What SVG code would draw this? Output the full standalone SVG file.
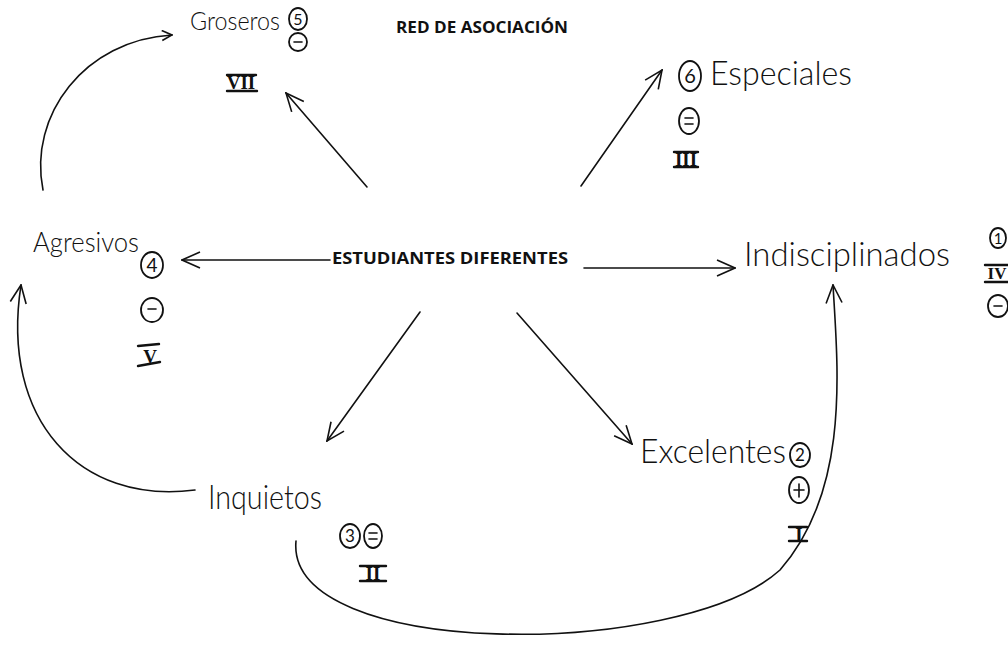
<svg xmlns="http://www.w3.org/2000/svg" width="1008" height="663" viewBox="0 0 1008 663">
<style>
.hand{font-family:"Lato","Open Sans",sans-serif;font-weight:300;fill:#111}
.lbl{font-size:33px}
.sm{font-size:17px;text-anchor:middle;font-weight:400}
.rom{font-family:"Liberation Serif",serif;font-weight:bold;font-size:19px;text-anchor:middle;fill:#111}
.ring{fill:none;stroke:#111;stroke-width:1.8}
.ln{fill:none;stroke:#111;stroke-width:1.6;stroke-linecap:round}
.bar{fill:none;stroke:#111;stroke-width:2.4;stroke-linecap:round}
.bold{font-family:"Open Sans","Liberation Sans",sans-serif;font-weight:bold;fill:#111}
</style>
<defs>
<marker id="ah" viewBox="0 0 12 12" refX="11" refY="6" markerWidth="12" markerHeight="12" markerUnits="userSpaceOnUse" orient="auto">
<path d="M1,1 L11,6 L1,11" fill="none" stroke="#111" stroke-width="1.6"/>
</marker>
<marker id="ahl" viewBox="0 0 20 20" refX="19" refY="10" markerWidth="20" markerHeight="20" markerUnits="userSpaceOnUse" orient="auto">
<path d="M1,2 L19,10 L1,18" fill="none" stroke="#111" stroke-width="1.6"/>
</marker>
</defs>
<rect width="1008" height="663" fill="#fff"/>
<text class="bold" x="482" y="33" font-size="16" text-anchor="middle" textLength="172" lengthAdjust="spacingAndGlyphs">RED DE ASOCIACIÓN</text>
<g id="center">
<text class="bold" x="450" y="264" font-size="16" text-anchor="middle" textLength="236" lengthAdjust="spacingAndGlyphs">ESTUDIANTES DIFERENTES</text>
</g>
<g id="connectors">
<line class="ln" x1="367" y1="187" x2="286" y2="93" marker-end="url(#ahl)"/>
<line class="ln" x1="581" y1="186" x2="662" y2="70" marker-end="url(#ahl)"/>
<line class="ln" x1="330" y1="260" x2="182" y2="260" marker-end="url(#ahl)"/>
<line class="ln" x1="584" y1="268" x2="735" y2="268" marker-end="url(#ahl)"/>
<line class="ln" x1="420" y1="312" x2="327" y2="441" marker-end="url(#ahl)"/>
<line class="ln" x1="517" y1="313" x2="632" y2="444" marker-end="url(#ahl)"/>
<path class="ln" d="M43,190 C28,115 85,40 172,35" marker-end="url(#ah)"/>
<path class="ln" d="M195,490 C80,505 0,420 21,285" marker-end="url(#ahl)"/>
<path class="ln" d="M296,541 C285,660 680,660 780,570 C850,490 838,370 833,285" marker-end="url(#ahl)"/>
</g>
<g id="groseros">
<text class="hand" x="190" y="30" style="font-size:26px" textLength="90" lengthAdjust="spacingAndGlyphs">Groseros</text>
<ellipse class="ring" cx="298" cy="19" rx="9" ry="11"/>
<text class="hand sm" x="298" y="25" style="font-size:16px">5</text>
<ellipse class="ring" cx="298" cy="42" rx="9" ry="9"/>
<line class="ln" x1="294" y1="42" x2="302" y2="42"/>
<text class="rom" x="241" y="89">VII</text>
<line class="bar" x1="227" y1="75" x2="256" y2="75"/>
<line class="bar" x1="227" y1="91" x2="257" y2="91"/>
</g>
<g id="especiales">
<text class="hand lbl" x="710" y="85" textLength="142" lengthAdjust="spacingAndGlyphs">Especiales</text>
<ellipse class="ring" cx="690" cy="76" rx="11" ry="15"/>
<text class="hand sm" x="690" y="83" style="font-size:20px">6</text>
<ellipse class="ring" cx="689" cy="121" rx="10" ry="13"/>
<line class="ln" x1="685" y1="118" x2="693" y2="118"/>
<line class="ln" x1="685" y1="124" x2="693" y2="124"/>
<text class="rom" x="686" y="166">III</text>
<line class="bar" x1="674" y1="152" x2="698" y2="152"/>
<line class="bar" x1="674" y1="167" x2="698" y2="167"/>
</g>
<g id="agresivos">
<text class="hand" x="33" y="252" style="font-size:27px" textLength="106" lengthAdjust="spacingAndGlyphs">Agresivos</text>
<ellipse class="ring" cx="152" cy="265" rx="11" ry="13"/>
<text class="hand sm" x="152" y="272" style="font-size:19px">4</text>
<ellipse class="ring" cx="152" cy="310" rx="11" ry="12"/>
<line class="ln" x1="148" y1="309" x2="156" y2="309"/>
<text class="rom" x="150" y="363">V</text>
<line class="bar" x1="138" y1="346" x2="159" y2="344"/>
<line class="bar" x1="138" y1="366" x2="160" y2="362"/>
</g>
<g id="indisciplinados">
<text class="hand lbl" x="744" y="266" textLength="206" lengthAdjust="spacingAndGlyphs">Indisciplinados</text>
<ellipse class="ring" cx="998" cy="238" rx="8" ry="10"/>
<text class="hand sm" x="998" y="244" style="font-size:15px">1</text>
<text class="rom" x="997" y="279" style="font-size:17px">IV</text>
<line class="bar" x1="985" y1="265" x2="1008" y2="265" stroke-width="2"/>
<line class="bar" x1="985" y1="282" x2="1008" y2="282" stroke-width="2"/>
<ellipse class="ring" cx="998" cy="306" rx="10" ry="11"/>
<line class="ln" x1="994" y1="306" x2="1002" y2="306"/>
</g>
<g id="inquietos">
<text class="hand lbl" x="208" y="509" textLength="114" lengthAdjust="spacingAndGlyphs">Inquietos</text>
<ellipse class="ring" cx="350" cy="536" rx="10" ry="12"/>
<text class="hand sm" x="350" y="542">3</text>
<ellipse class="ring" cx="373" cy="536" rx="9" ry="12"/>
<line class="ln" x1="369" y1="533" x2="377" y2="533"/>
<line class="ln" x1="369" y1="539" x2="377" y2="539"/>
<text class="rom" x="373" y="580">II</text>
<line class="bar" x1="360" y1="566" x2="386" y2="566"/>
<line class="bar" x1="360" y1="581" x2="386" y2="581"/>
</g>
<g id="excelentes">
<text class="hand lbl" x="640" y="463" textLength="146" lengthAdjust="spacingAndGlyphs">Excelentes</text>
<ellipse class="ring" cx="800" cy="455" rx="10" ry="12"/>
<text class="hand sm" x="800" y="461">2</text>
<ellipse class="ring" cx="799" cy="490" rx="10" ry="13"/>
<line class="ln" x1="794" y1="490" x2="804" y2="490"/>
<line class="ln" x1="799" y1="484" x2="799" y2="497"/>
<text class="rom" x="799" y="541">I</text>
<line class="bar" x1="789" y1="527" x2="807" y2="527"/>
<line class="bar" x1="789" y1="541" x2="807" y2="541"/>
</g>
</svg>
